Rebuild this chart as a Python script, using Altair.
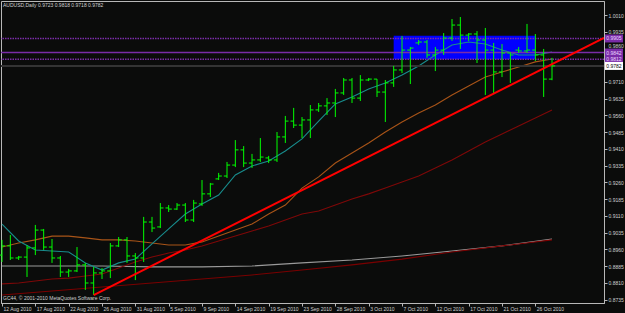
import altair as alt
import pandas as pd

# ---------------- data (AUDUSD daily, one bar per trading day incl. Sundays) ----------------
bar_open = [0.8935, 0.8976, 0.8922, 0.8926, 0.8967, 0.9047, 0.8971, 0.8922, 0.8859, 0.8864,
            0.8891, 0.8810, 0.8855, 0.8864, 0.8976, 0.9003, 0.8931, 0.8922, 0.9083, 0.9061,
            0.9146, 0.9141, 0.9159, 0.9092, 0.9164, 0.9209, 0.9276, 0.9289, 0.9338, 0.9406,
            0.9347, 0.9361, 0.9370, 0.9361, 0.9464, 0.9535, 0.9517, 0.9540, 0.9585, 0.9603,
            0.9616, 0.9661, 0.9719, 0.9638, 0.9719, 0.9723, 0.9665, 0.9706, 0.9764, 0.9853,
            0.9885, 0.9889, 0.9831, 0.9853, 0.9907, 0.9965, 0.9920, 0.9925, 0.9898, 0.9853,
            0.9755, 0.9840, 0.9853, 0.9849, 0.9853, 0.9831, 0.9723]
bar_high = [0.9003, 0.9025, 0.8931, 0.8980, 0.9070, 0.9052, 0.9007, 0.8931, 0.8873, 0.8971,
            0.8900, 0.8882, 0.8877, 0.8989, 0.9016, 0.9016, 0.8944, 0.9106, 0.9106, 0.9168,
            0.9159, 0.9168, 0.9168, 0.9182, 0.9271, 0.9258, 0.9303, 0.9352, 0.9450, 0.9423,
            0.9388, 0.9459, 0.9379, 0.9486, 0.9558, 0.9594, 0.9553, 0.9607, 0.9616, 0.9638,
            0.9679, 0.9728, 0.9728, 0.9741, 0.9728, 0.9723, 0.9719, 0.9782, 0.9916, 0.9867,
            0.9898, 0.9898, 0.9867, 0.9929, 0.9992, 1.0001, 0.9929, 0.9938, 0.9952, 0.9885,
            0.9880, 0.9844, 0.9867, 0.9970, 0.9925, 0.9858, 0.9818]
bar_low = [0.8904, 0.8913, 0.8913, 0.8837, 0.8935, 0.8958, 0.8900, 0.8837, 0.8837, 0.8859,
           0.8779, 0.8756, 0.8828, 0.8832, 0.8971, 0.8900, 0.8823, 0.8904, 0.9038, 0.9056,
           0.9128, 0.9137, 0.9083, 0.9083, 0.9155, 0.9195, 0.9271, 0.9280, 0.9329, 0.9329,
           0.9325, 0.9352, 0.9347, 0.9352, 0.9437, 0.9504, 0.9459, 0.9459, 0.9576, 0.9562,
           0.9553, 0.9652, 0.9616, 0.9625, 0.9714, 0.9643, 0.9531, 0.9688, 0.9750, 0.9701,
           0.9876, 0.9818, 0.9759, 0.9831, 0.9894, 0.9858, 0.9894, 0.9795, 0.9652, 0.9661,
           0.9732, 0.9706, 0.9840, 0.9840, 0.9804, 0.9643, 0.9718]
bar_close = [0.8976, 0.8922, 0.8926, 0.8967, 0.9047, 0.8971, 0.8922, 0.8859, 0.8864, 0.8891,
             0.8810, 0.8855, 0.8864, 0.8976, 0.9003, 0.8931, 0.8922, 0.9083, 0.9056, 0.9146,
             0.9141, 0.9159, 0.9092, 0.9168, 0.9209, 0.9253, 0.9289, 0.9338, 0.9406, 0.9347,
             0.9361, 0.9374, 0.9361, 0.9464, 0.9535, 0.9517, 0.9540, 0.9585, 0.9603, 0.9616,
             0.9661, 0.9719, 0.9638, 0.9719, 0.9723, 0.9665, 0.9706, 0.9764, 0.9853, 0.9862,
             0.9889, 0.9831, 0.9853, 0.9907, 0.9965, 0.9920, 0.9925, 0.9898, 0.9853, 0.9755,
             0.9840, 0.9831, 0.9849, 0.9853, 0.9831, 0.9723, 0.9782]

# moving averages read at every 2nd bar (0, 2, ..., 66)
ma_fast_idx = list(range(0, 67, 2))
ma_teal = [0.9074, 0.8998, 0.8958, 0.8953, 0.8949, 0.8900, 0.8868, 0.8900, 0.8917, 0.8985,
           0.9052, 0.9119, 0.9164, 0.9204, 0.9294, 0.9334, 0.9356, 0.9401, 0.9455, 0.9535,
           0.9612, 0.9643, 0.9679, 0.9706, 0.9741, 0.9782, 0.9831, 0.9876, 0.9889, 0.9880,
           0.9853, 0.9831, 0.9831, 0.9844]
ma_orange = [0.8971, 0.8989, 0.9003, 0.9020, 0.9020, 0.9012, 0.9003, 0.9003, 0.8998, 0.8989,
             0.8980, 0.8980, 0.8994, 0.9020, 0.9047, 0.9074, 0.9119, 0.9159, 0.9235, 0.9285,
             0.9347, 0.9392, 0.9437, 0.9486, 0.9531, 0.9571, 0.9607, 0.9652, 0.9692, 0.9732,
             0.9755, 0.9777, 0.9800, 0.9813]
ma_darkred = [0.8806, 0.8810, 0.8819, 0.8828, 0.8832, 0.8841, 0.8850, 0.8877, 0.8904, 0.8926,
              0.8944, 0.8958, 0.8976, 0.8998, 0.9020, 0.9043, 0.9065, 0.9092, 0.9119, 0.9132,
              0.9159, 0.9186, 0.9209, 0.9235, 0.9262, 0.9289, 0.9325, 0.9361, 0.9401, 0.9441,
              0.9477, 0.9513, 0.9549, 0.9585]
# slow averages read at every 6th bar
ma_slow_idx = list(range(0, 67, 6))
ma_slowred = [0.8756, 0.8774, 0.8792, 0.8810, 0.8828, 0.8846, 0.8868, 0.8891, 0.8917, 0.8949, 0.8976, 0.9003]
ma_gray = [0.8886, 0.8886, 0.8886, 0.8882, 0.8882, 0.8886, 0.8900, 0.8913, 0.8931, 0.8953, 0.8976, 0.9007]

# trend line (bar index, price)
trend_idx = [11, 72.24]
trend_price = [0.8756, 0.9907]

# rectangle zone
zone_idx = [47, 64]
zone_price = [0.9812, 0.9917]

# horizontal levels
level_dotted = [0.9905, 0.9812]
level_solid = [0.9842]
bid_price = [0.9782]
label_prices = [0.9905, 0.9842, 0.9812]

date_idx = list(range(0, 65, 4))
date_labels = ["12 Aug 2010", "17 Aug 2010", "22 Aug 2010", "26 Aug 2010", "31 Aug 2010",
               "5 Sep 2010", "9 Sep 2010", "14 Sep 2010", "19 Sep 2010", "23 Sep 2010",
               "28 Sep 2010", "3 Oct 2010", "7 Oct 2010", "12 Oct 2010", "17 Oct 2010",
               "21 Oct 2010", "26 Oct 2010"]
price_ticks = [0.8735, 0.8810, 0.8885, 0.8960, 0.9035, 0.9110, 0.9185, 0.9260, 0.9335,
               0.9410, 0.9485, 0.9560, 0.9635, 0.9710, 0.9785, 0.9860, 0.9935, 1.0010]
hidden_tick_label = 0.9785   # covered by the bid-price box in the reference
raised_tick_label = 0.9860   # sits just above the 0.9842 box in the reference

header = "AUDUSD,Daily  0.9723 0.9818 0.9718 0.9782"
copyright_txt = "GC44, \u00a9 2001-2010 MetaQuotes Software Corp."

# ---------------- styling ----------------
W, H = 603, 302
BG = "#0b0c0b"
FG = "#d0d0d0"
AXC = "#b8b8b8"
FONT = "Liberation Sans"
FS = 5
BAR = "#00ff00"
PURPLE = "#7a2ca8"

xs = alt.Scale(domain=[-0.12, 72.24], nice=False, zero=False)
ys = alt.Scale(domain=[0.87204, 1.00727], nice=False, zero=False)

label_map = "[" + ",".join("'%s'" % s for s in date_labels) + "]"
x_axis = alt.Axis(values=date_idx, labelExpr=label_map + "[round(datum.value/4)]",
                  orient="bottom", title=None, grid=False, domain=True, domainColor=AXC,
                  ticks=True, tickSize=3, tickColor=AXC, labelAlign="left", labelBaseline="top",
                  labelPadding=0, labelOffset=1, labelFont=FONT, labelFontSize=FS, labelColor=FG,
                  labelOverlap=False, labelFlush=False, labelBound=False)
y_axis = alt.Axis(values=price_ticks,
                  labelExpr="abs(datum.value - %s) < 0.00001 ? '' : format(datum.value, '.4f')" % hidden_tick_label,
                  orient="right", title=None, grid=False,
                  domain=True, domainColor=AXC, ticks=True, tickSize=3, tickColor=AXC,
                  labelPadding=1,
                  labelBaseline={"condition": {"test": "abs(datum.value - %s) < 0.00001" % raised_tick_label,
                                               "value": "bottom"}, "value": "middle"},
                  labelFont=FONT, labelFontSize=FS,
                  labelColor=FG, labelOverlap=False, labelFlush=False, labelBound=False)


def X(field):
    return alt.X(field, scale=xs, axis=x_axis)


def Y(field):
    return alt.Y(field, scale=ys, axis=y_axis)


bars = pd.DataFrame({"i": list(range(len(bar_open))), "o": bar_open, "h": bar_high,
                     "l": bar_low, "c": bar_close})

zone = alt.Chart(pd.DataFrame({"x1": [zone_idx[0]], "x2": [zone_idx[1]],
                               "y1": [zone_price[0]], "y2": [zone_price[1]]})).mark_rect(
    color="#0000ff", opacity=1).encode(x=X("x1:Q"), x2="x2:Q", y=Y("y1:Q"), y2="y2:Q")


def ma_layer(idx, vals, color, width=1.0):
    df = pd.DataFrame({"i": idx, "v": vals})
    return alt.Chart(df).mark_line(color=color, strokeWidth=width, clip=True).encode(
        x=X("i:Q"), y=Y("v:Q"))


gray_l = ma_layer(ma_slow_idx, ma_gray, "#9a9a9a", 1.1)
slow_l = ma_layer(ma_slow_idx, ma_slowred, "#7a0000", 1.1)
dred_l = ma_layer(ma_fast_idx, ma_darkred, "#7e0808", 1.1)
orng_l = ma_layer(ma_fast_idx, ma_orange, "#a85418", 1.1)
teal_l = ma_layer(ma_fast_idx, ma_teal, "#188c8c", 1.1)

bid = alt.Chart(pd.DataFrame({"p": bid_price})).mark_rule(color="#343434", strokeWidth=2).encode(
    y=Y("p:Q"))
lv_dot = alt.Chart(pd.DataFrame({"p": level_dotted})).mark_rule(
    color=PURPLE, strokeWidth=1.5, strokeDash=[1.5, 1]).encode(y=Y("p:Q"))
lv_sol = alt.Chart(pd.DataFrame({"p": level_solid})).mark_rule(
    color=PURPLE, strokeWidth=1.5).encode(y=Y("p:Q"))

hl = alt.Chart(bars).mark_rule(color=BAR, strokeWidth=1).encode(
    x=X("i:Q"), y=Y("l:Q"), y2="h:Q")
op = alt.Chart(bars).transform_calculate(a="datum.i - 0.38").mark_rule(
    color=BAR, strokeWidth=1).encode(x=X("a:Q"), x2="i:Q", y=Y("o:Q"))
cl = alt.Chart(bars).transform_calculate(b="datum.i + 0.38").mark_rule(
    color=BAR, strokeWidth=1).encode(x=X("i:Q"), x2="b:Q", y=Y("c:Q"))

trend = alt.Chart(pd.DataFrame({"i": trend_idx, "p": trend_price})).mark_line(
    color="#ff0000", strokeWidth=2, clip=True).encode(x=X("i:Q"), y=Y("p:Q"))

box_p = alt.Chart(pd.DataFrame({"p": label_prices})).mark_rule(
    color=PURPLE, strokeWidth=8, strokeCap="butt").encode(
    x=alt.value(W + 1), x2=alt.value(W + 19), y=Y("p:Q"))
box_t = alt.Chart(pd.DataFrame({"p": label_prices, "t": ["%.4f" % v for v in label_prices]})).mark_text(
    color="#ead8ff", font=FONT, fontSize=FS, align="center", baseline="middle").encode(
    x=alt.value(W + 10), y=Y("p:Q"), text="t:N")
bid_box = alt.Chart(pd.DataFrame({"p": bid_price})).mark_rule(
    color="#ffffff", strokeWidth=8, strokeCap="butt").encode(
    x=alt.value(W + 1), x2=alt.value(W + 19), y=Y("p:Q"))
bid_t = alt.Chart(pd.DataFrame({"p": bid_price, "t": ["%.4f" % v for v in bid_price]})).mark_text(
    color="#000000", font=FONT, fontSize=FS, align="center", baseline="middle").encode(
    x=alt.value(W + 10), y=Y("p:Q"), text="t:N")

head = alt.Chart(pd.DataFrame({"t": [header]})).mark_text(
    color=FG, font=FONT, fontSize=FS, align="left", baseline="middle").encode(
    x=alt.value(2), y=alt.value(4), text="t:N")
copy = alt.Chart(pd.DataFrame({"t": [copyright_txt]})).mark_text(
    color=FG, font=FONT, fontSize=FS, align="left", baseline="middle").encode(
    x=alt.value(2), y=alt.value(297), text="t:N")

chart = alt.layer(zone, gray_l, slow_l, dred_l, orng_l, teal_l, bid, lv_dot, lv_sol,
                  hl, op, cl, trend, box_p, box_t, bid_box, bid_t, head, copy).properties(
    width=W, height=H, background=BG,
    padding={"left": 1, "top": 1, "right": 21, "bottom": 10},
    autosize=alt.AutoSizeParams(type="none"),
).configure_view(stroke=AXC, strokeWidth=1)

chart.save("out.html", embed_options={"renderer": "svg", "actions": False})
